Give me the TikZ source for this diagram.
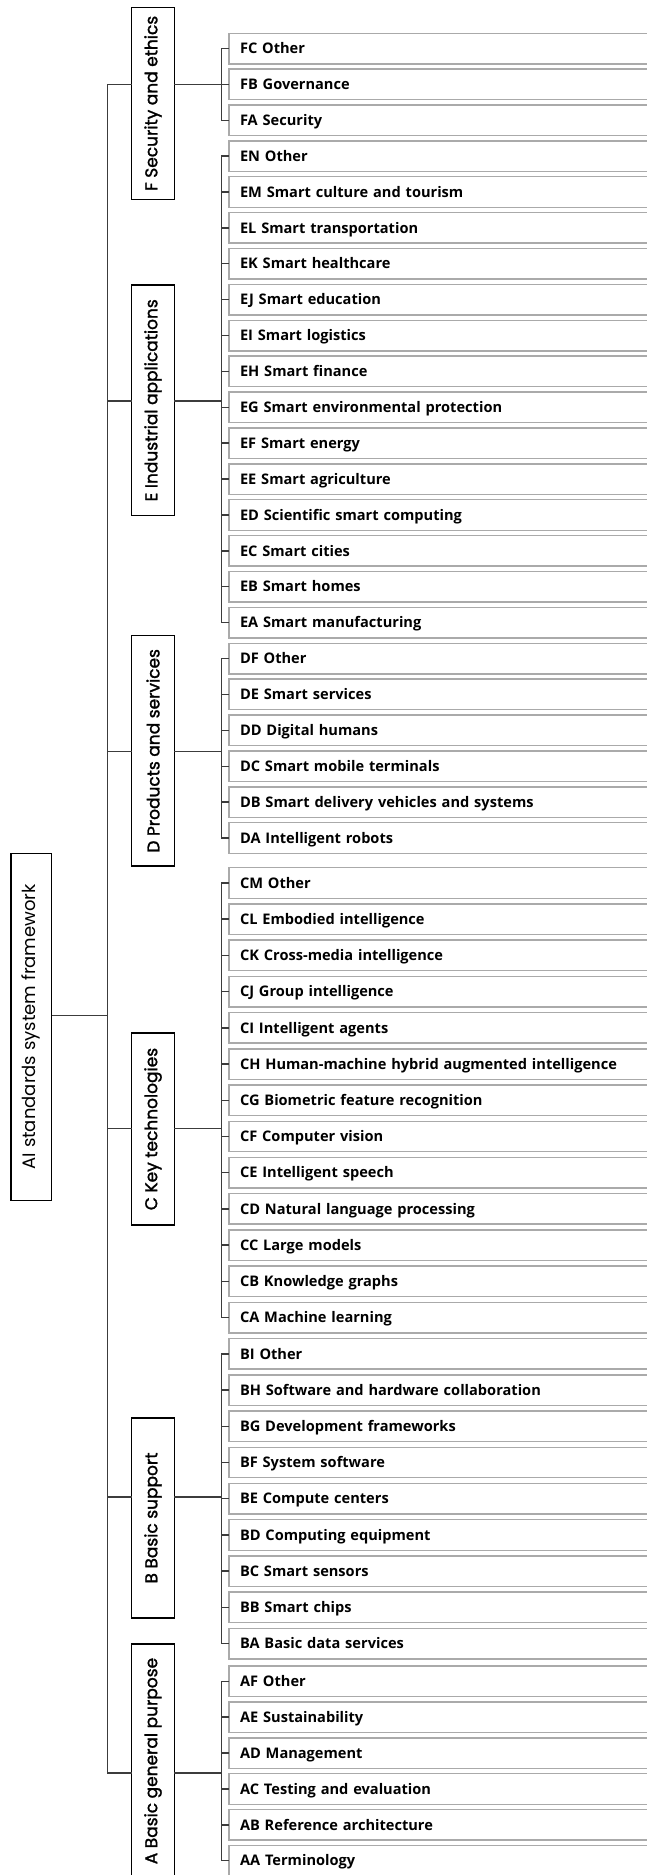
\documentclass[tikz,border=0pt]{standalone}
\usepackage{fontspec}
\usepackage{graphicx}
\setmainfont{Open Sans}
\newfontfamily\catfont{Poppins}[FakeBold=1.6]
\newfontfamily\rootfont{Poppins}
\usetikzlibrary{positioning}

\definecolor{leafGray}{RGB}{170,170,170}
\definecolor{linkGray}{RGB}{60,60,60}

\begin{document}
\begin{tikzpicture}[
    x=1pt, y=-1pt,
    % 叶子条目：灰框，右端伸出画面
    leafBox/.style={draw=leafGray, line width=1.4pt, anchor=north west, outer sep=0pt,
        minimum height=30.5pt, text width=409pt, align=left, inner xsep=11pt, inner ysep=0pt,
        text height=10.4pt, text depth=0pt, font=\fontsize{14.6}{16}\selectfont\bfseries},
    % 分类竖框
    catBox/.style={draw=black, line width=1.3pt, outer sep=0pt, minimum width=42.6pt,
        inner sep=0pt, font=\catfont\fontsize{17}{19}\selectfont},
    rootBox/.style={catBox, minimum width=40.7pt, font=\rootfont\fontsize{18}{20}\selectfont},
    linkLine/.style={draw=linkGray, line width=1.4pt}
]
    \useasboundingbox (0,0) rectangle (647,1875);

    % 根节点
    \node[rootBox, minimum height=347pt] (root) at (31.35,1026.7)
        {\rotatebox{90}{AI standards system framework}};

    % 六个大类
    \node[catBox, minimum height=192pt]   (catF) at (153,103.3)  {\rotatebox{90}{F Security and ethics}};
    \node[catBox, minimum height=230.7pt] (catE) at (153,400.3)  {\rotatebox{90}{E Industrial applications}};
    \node[catBox, minimum height=230.3pt] (catD) at (153,750.8)  {\rotatebox{90}{D Products and services}};
    \node[catBox, minimum height=192pt]   (catC) at (153,1129)   {\rotatebox{90}{C Key technologies}};
    \node[catBox, minimum height=200pt]   (catB) at (153,1518)   {\rotatebox{90}{B Basic support}};
    \node[catBox, minimum height=234pt]   (catA) at (153,1761)   {\rotatebox{90}{A Basic general purpose}};

    % 叶子条目
    \foreach \code/\txt [count=\k from 0] in {FC/FC Other,FB/FB Governance,FA/FA Security}
        \node[leafBox] (\code) at (229,{33.3+35.88*\k}) {\txt};

    \foreach \code/\txt [count=\k from 0] in {EN/EN Other,EM/EM Smart culture and tourism,
        EL/EL Smart transportation,EK/EK Smart healthcare,EJ/EJ Smart education,
        EI/EI Smart logistics,EH/EH Smart finance,EG/EG Smart environmental protection,
        EF/EF Smart energy,EE/EE Smart agriculture,ED/ED Scientific smart computing,
        EC/EC Smart cities,EB/EB Smart homes,EA/EA Smart manufacturing}
        \node[leafBox] (\code) at (229,{140.9+35.88*\k}) {\txt};

    \foreach \code/\txt [count=\k from 0] in {DF/DF Other,DE/DE Smart services,
        DD/DD Digital humans,DC/DC Smart mobile terminals,
        DB/DB Smart delivery vehicles and systems,DA/DA Intelligent robots}
        \node[leafBox] (\code) at (229,{643.3+35.88*\k}) {\txt};

    \foreach \code/\txt [count=\k from 0] in {CM/CM Other,CL/CL Embodied intelligence,
        CK/CK Cross-media intelligence,CJ/CJ Group intelligence,CI/CI Intelligent agents,
        CH/CH Human-machine hybrid augmented intelligence,CG/CG Biometric feature recognition,
        CF/CF Computer vision,CE/CE Intelligent speech,CD/CD Natural language processing,
        CC/CC Large models,CB/CB Knowledge graphs,CA/CA Machine learning}
        \node[leafBox] (\code) at (229,{867.7+36.22*\k}) {\txt};

    \foreach \code/\txt [count=\k from 0] in {BI/BI Other,BH/BH Software and hardware collaboration,
        BG/BG Development frameworks,BF/BF System software,BE/BE Compute centers,
        BD/BD Computing equipment,BC/BC Smart sensors,BB/BB Smart chips,BA/BA Basic data services}
        \node[leafBox] (\code) at (229,{1338.6+36.22*\k}) {\txt};

    \foreach \code/\txt [count=\k from 0] in {AF/AF Other,AE/AE Sustainability,AD/AD Management,
        AC/AC Testing and evaluation,AB/AB Reference architecture,AA/AA Terminology}
        \node[leafBox] (\code) at (229,{1666+35.9*\k}) {\txt};

    % 括号与主干
    \coordinate (brX) at (221.3,0);
    \coordinate (spine) at (107.3,0);
    \coordinate (joinF) at (221.3,84.3);
    \coordinate (joinE) at (221.3,401);
    \coordinate (joinD) at (221.3,751.7);
    \coordinate (joinC) at (221.3,1128.3);
    \coordinate (joinB) at (221.3,1497);
    \coordinate (joinA) at (221.3,1773);
    \coordinate (joinRoot) at (107.3,1015.5);

    \draw[linkLine] (FC.west) -- (FC.west -| brX) |- (FA.west);
    \draw[linkLine] (EN.west) -- (EN.west -| brX) |- (EA.west);
    \draw[linkLine] (DF.west) -- (DF.west -| brX) |- (DA.west);
    \draw[linkLine] (CM.west) -- (CM.west -| brX) |- (CA.west);
    \draw[linkLine] (BI.west) -- (BI.west -| brX) |- (BA.west);
    \draw[linkLine] (AF.west) -- (AF.west -| brX) |- (AA.west);
    \foreach \n in {FB,EM,EL,EK,EJ,EI,EH,EG,EF,EE,ED,EC,EB,DE,DD,DC,DB,
                    CL,CK,CJ,CI,CH,CG,CF,CE,CD,CC,CB,BH,BG,BF,BE,BD,BC,BB,AE,AD,AC,AB}
        \draw[linkLine] (\n.west) -- (\n.west -| brX);

    \foreach \g in {F,E,D,C,B,A} {
        \draw[linkLine] (spine |- join\g) -- (cat\g.west |- join\g);
        \draw[linkLine] (cat\g.east |- join\g) -- (join\g);
    }
    \draw[linkLine] (spine |- joinF) -- (spine |- joinA);
    \draw[linkLine] (root.east |- joinRoot) -- (joinRoot);
\end{tikzpicture}
\end{document}
